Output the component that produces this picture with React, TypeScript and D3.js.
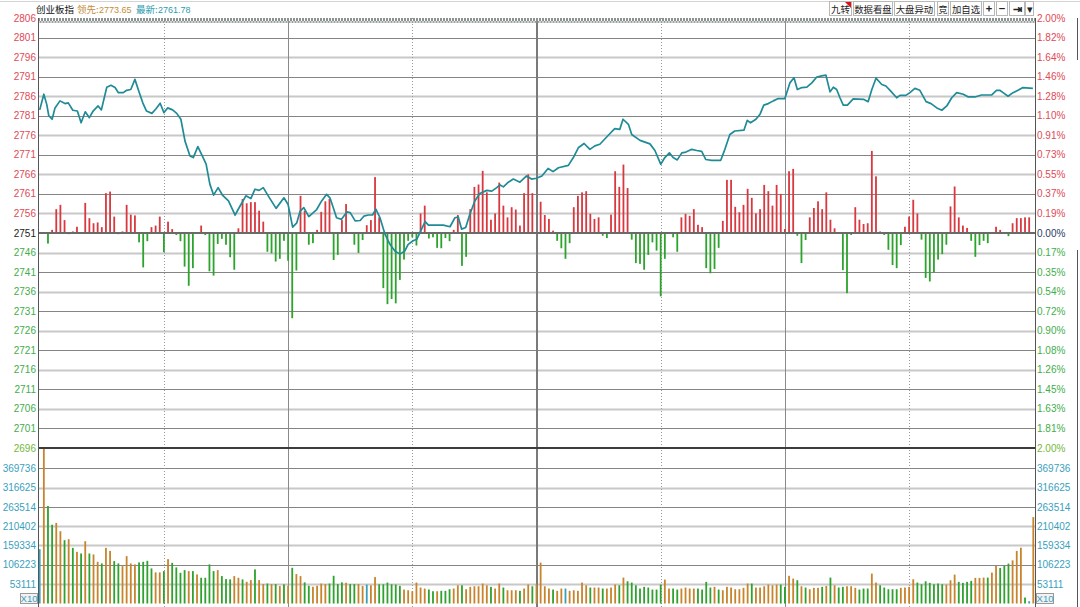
import { useRef, useEffect } from 'react';
import * as d3 from 'd3';

const W = 1080;
const H = 607;

// axis tick labels
const priceTicks = [2806, 2801, 2796, 2791, 2786, 2781, 2776, 2771, 2766, 2761, 2756, 2751,
  2746, 2741, 2736, 2731, 2726, 2721, 2716, 2711, 2706, 2701, 2696];
const pctTicks = ['2.00%', '1.82%', '1.64%', '1.46%', '1.28%', '1.10%', '0.91%', '0.73%', '0.55%', '0.37%', '0.19%', '0.00%',
  '0.17%', '0.35%', '0.54%', '0.72%', '0.90%', '1.08%', '1.26%', '1.45%', '1.63%', '1.81%', '2.00%'];
const volTicks = [369736, 316625, 263514, 210402, 159334, 106223, 53111];
const preClose = 2751;

const header = { name: '创业板指', leadLabel: '领先:', lead: '2773.65', lastLabel: '最新:', last: '2761.78' };
const buttons = ['九转', '数据看盘', '大盘异动', '竞', '加自选', '+', '−', '⇥', '▾'];

// price line, [minute, price]
const linePts: [number, number][] = [
  [0, 2782.5], [1.0, 2786.5], [1.7, 2783.9], [2.2, 2781], [3.0, 2780.1], [3.7, 2783], [4.9, 2784.8], [6.1, 2784.1], [6.9, 2784.3], [8.0, 2782.4],
  [9.1, 2782.2], [10.0, 2779.2], [11.0, 2782], [12.0, 2780.5], [12.9, 2782.2], [14.1, 2783.5], [14.9, 2782.5], [16.2, 2788.3], [17.2, 2788.8], [18.2, 2788.2],
  [19.0, 2786.9], [20.2, 2786.9], [21.0, 2787.5], [22.0, 2787.7], [23.0, 2790.3], [23.8, 2787.7], [24.9, 2784.3], [25.8, 2782.2], [27.1, 2781.6], [28.1, 2782.8],
  [29.1, 2784.2], [30.0, 2781.8], [30.9, 2783], [32.1, 2782.5], [33.1, 2781.6], [34.1, 2780.1], [35.1, 2774.5], [36.3, 2770.7], [37.1, 2770.3], [38.2, 2773.1],
  [39.1, 2771.1], [40.2, 2768.6], [41.1, 2763.5], [42.0, 2760.7], [43.1, 2762.6], [44.2, 2760.6], [45.6, 2759.2], [47.2, 2755.6], [48.4, 2757.9], [49.8, 2760.5],
  [51.0, 2759.8], [52.0, 2762.2], [53.0, 2761.9], [54.0, 2762.6], [55.2, 2760.5], [57.1, 2757.3], [59.0, 2760], [60.0, 2758.3], [61.1, 2752.5], [62.1, 2753.6],
  [62.9, 2756.6], [63.8, 2757.5], [65.0, 2755.2], [66.9, 2757], [68.1, 2759.2], [69.3, 2760.9], [70.1, 2760], [70.9, 2757.5], [71.7, 2754.9], [72.9, 2754.5],
  [74.2, 2756.4], [75.0, 2756.2], [76.2, 2754.1], [77.4, 2754.2], [78.3, 2755.3], [79.4, 2755.6], [80.4, 2755.6], [81.2, 2757.1], [82.2, 2754.9], [83.4, 2750.7],
  [84.6, 2748.1], [85.8, 2746.4], [87.0, 2745.6], [88.2, 2746.4], [89.0, 2748.1], [90.2, 2749], [91.1, 2749.4], [92.0, 2751.5], [93.1, 2753.9], [93.9, 2753],
  [95.1, 2753], [97.5, 2753], [99.1, 2752.6], [100.3, 2754.9], [101.1, 2755.1], [101.9, 2752], [102.9, 2752.4], [103.9, 2755.8], [105.1, 2759.2], [106.3, 2761.1],
  [108.0, 2761.9], [109.2, 2761.7], [110.4, 2762.6], [111.2, 2763.3], [112.0, 2762.8], [113.2, 2764], [114.4, 2764.8], [116.0, 2764], [117.6, 2765.6], [118.8, 2764.8],
  [120.0, 2765], [121.3, 2765.6], [122.8, 2767.5], [124.0, 2766.7], [125.3, 2767.7], [127.7, 2768.3], [128.9, 2770.3], [130.1, 2772.8], [131.5, 2773.9], [132.9, 2772.4],
  [134.1, 2773.3], [135.3, 2773.7], [137.7, 2776.4], [138.9, 2777.7], [140.1, 2777.5], [140.9, 2780.1], [142.2, 2778.8], [143.0, 2776.2], [145.0, 2774.7], [147.4, 2773.8],
  [148.6, 2772.1], [150.0, 2768.6], [151.0, 2770.3], [152.1, 2771.5], [153.0, 2770.3], [154.0, 2769.7], [155.1, 2771.5], [156.1, 2771.7], [157.5, 2772.4], [158.7, 2772.1],
  [159.9, 2771.9], [160.9, 2769.8], [162.3, 2769.6], [164.5, 2769.6], [165.5, 2772.4], [166.7, 2776.2], [167.9, 2777.1], [170.1, 2777.3], [170.9, 2779.8], [171.7, 2779.2],
  [173.0, 2780.1], [174.0, 2781.4], [174.9, 2783.7], [176.0, 2784.1], [177.2, 2784.8], [178.4, 2785.4], [180.0, 2785.4], [181.2, 2789.4], [182.2, 2790.7], [183.0, 2787.7],
  [184.1, 2788.2], [185.3, 2788.3], [186.5, 2789.4], [187.7, 2790.9], [188.9, 2791.2], [189.9, 2791.4], [190.9, 2787.1], [191.7, 2788.3], [192.5, 2787.7], [193.3, 2785.6],
  [194.1, 2783.7], [195.1, 2783.7], [196.5, 2785.3], [199.0, 2785.2], [200.1, 2784.6], [201.0, 2787.7], [202.0, 2790.6], [203.4, 2789], [204.4, 2788.6], [205.4, 2787.5],
  [207.0, 2785.6], [207.8, 2786.2], [209.2, 2786.2], [210.2, 2786.9], [211.4, 2788], [212.6, 2787.5], [214.1, 2784.6], [215.3, 2784.1], [216.7, 2783], [217.9, 2782.4],
  [219.1, 2783.5], [220.3, 2785.6], [221.5, 2786.9], [223.1, 2786.5], [224.3, 2785.8], [225.9, 2785.8], [227.5, 2786.3], [229.9, 2786.3], [231.1, 2787.5], [231.9, 2787.5],
  [232.7, 2786.9], [233.9, 2786], [235.1, 2786.9], [236.3, 2787.5], [237.5, 2788.2], [239.9, 2788],
];

// red/green bars around the pre-close line, [minute, points]
const leadBars: [number, number][] = [
  [2, -2.7], [3, 0.8], [4, 6.1], [5, 7.2], [6, 3.3], [7, -0.3], [8, 0.4], [9, 1.6], [11, 7.7], [12, 3.8], [13, 2.5], [14, 2.7], [15, 1.5], [16, 10.2], [17, 10.6],
  [18, 4.2], [19, -0.3], [20, 0.4], [21, 7.2], [22, 4.7], [23, 4.5], [24, -2.4], [25, -8.8], [26, -2.1], [27, 1.5], [28, 1.9], [29, 4.2], [30, -4.9], [31, 2.9],
  [32, 1.0], [33, -0.5], [34, -2.1], [35, -8.6], [36, -13.5], [37, -9.0], [39, 1.9], [40, -0.5], [41, -9.8], [42, -10.9], [43, -2.8], [44, -1.5], [45, -3.0],
  [46, -6.2], [47, -9.4], [48, 1.2], [49, 8.7], [50, 7.6], [51, 7.9], [52, 7.9], [53, 5.7], [54, 2.9], [55, -4.8], [56, -5.2], [57, -7.3], [58, -6.6], [59, -2.0],
  [60, -7.1], [61, -21.8], [62, -9.6], [63, 9.5], [64, 5.7], [65, -3.0], [66, -2.6], [67, 0.8], [68, 5.4], [69, 8.1], [70, 8.7], [71, -6.9], [72, -5.6], [73, 3.3],
  [74, 7.4], [76, -3.0], [77, -5.1], [78, -1.8], [79, 2.0], [80, 3.3], [81, 14.3], [82, 4.0], [83, -14.1], [84, -18.2], [85, -16.9], [86, -18.0], [87, -12.0],
  [88, -6.8], [89, -2.0], [90, -1.1], [91, -3.2], [92, 5.0], [93, 7.0], [94, -1.4], [95, -1.1], [96, -3.8], [97, -3.9], [98, -1.3], [99, -2.1], [100, 0.8],
  [101, 4.6], [102, -8.4], [103, -6.1], [104, 6.1], [105, 11.8], [106, 12.4], [107, 15.9], [108, 10.4], [109, 3.4], [110, 5.0], [111, 12.9], [112, 7.0], [113, 4.0],
  [114, 6.6], [115, 6.0], [116, 1.9], [117, 10.2], [118, 15.0], [119, 10.2], [121, 8.0], [122, 4.6], [123, 3.6], [124, 0.6], [125, -2.0], [126, -3.9], [127, -6.6],
  [128, -2.6], [129, 6.6], [130, 9.5], [131, 10.4], [132, 10.7], [133, 4.9], [134, 3.6], [135, 4.0], [136, -0.7], [137, -1.3], [138, 4.7], [139, 15.8], [140, 11.8],
  [141, 17.5], [142, 11.5], [143, -1.7], [144, -7.7], [145, -7.9], [146, -9.4], [147, -5.6], [148, -2.4], [149, -4.5], [150, -16.2], [151, -6.6], [153, -1.1],
  [154, -4.8], [155, 4.0], [156, 4.9], [157, 4.4], [158, 6.1], [159, 2.1], [160, 1.5], [161, -9.0], [162, -10.3], [163, -9.2], [164, -3.8], [165, 3.1], [166, 13.6],
  [167, 13.6], [168, 6.7], [169, 5.3], [170, 7.2], [171, 11.3], [172, 9.0], [173, 5.0], [174, 6.1], [175, 12.3], [176, 10.7], [177, 7.0], [178, 12.3], [179, 10.0],
  [180, 1.0], [181, 15.8], [182, 16.4], [183, -0.7], [184, -7.7], [185, -1.8], [186, 4.0], [187, 6.4], [188, 8.1], [189, 6.1], [190, 10.4], [191, 3.4], [192, 1.2],
  [194, -9.5], [195, -15.4], [196, -0.5], [197, 6.6], [198, 3.4], [199, 2.3], [200, 2.5], [201, 21.0], [202, 14.5], [203, 0.4], [204, -0.5], [205, -4.3], [206, -8.2],
  [207, -9.0], [208, -3.1], [209, 1.6], [210, 4.2], [211, 8.5], [212, 5.0], [213, -1.7], [214, -11.5], [215, -12.4], [216, -10.1], [217, -6.8], [218, -5.4], [219, -3.0],
  [220, 6.8], [221, 11.9], [222, 4.0], [223, 1.9], [224, 1.3], [225, -2.0], [226, -6.1], [227, -3.1], [228, -2.0], [229, -2.6], [231, 1.6], [232, 0.8], [234, -0.8],
  [235, 2.5], [236, 3.8], [237, 3.8], [238, 4.0], [239, 4.0],
];

// volume per minute 0..240
const volumes = [
  148400, 423000, 266400, 215200, 220100, 197500, 173000, 175700, 152000, 141100,
  136700, 170200, 136700, 134000, 113900, 109500, 152000, 143800, 115800, 109500,
  102100, 129400, 109500, 106800, 112200, 113900, 116600, 95900, 85000, 85000,
  88500, 121200, 111100, 98600, 83900, 91200, 88500, 88500, 79500, 70300,
  70300, 106800, 88500, 91200, 74900, 66700, 65900, 74900, 70300, 65900,
  59400, 64000, 93200, 64000, 53100, 54500, 53100, 53100, 47700, 52300,
  48500, 97500, 80400, 74900, 57700, 48500, 45800, 48500, 54500, 53100,
  54500, 75700, 53100, 57700, 56700, 53100, 53100, 53100, 47700, 51800,
  49800, 72200, 52600, 52600, 57200, 52600, 51800, 48200, 38100, 36200,
  33500, 57200, 43600, 40900, 38100, 33500, 33500, 34600, 34600, 39000,
  40900, 49800, 49800, 39000, 45500, 47100, 47100, 54500, 49800, 45500,
  40900, 54500, 43600, 36200, 36200, 36200, 34600, 40900, 51800, 47100,
  51800, 111700, 47100, 40900, 38100, 34600, 40900, 40900, 34600, 36200,
  34600, 57200, 49800, 43600, 43600, 43600, 40900, 40900, 43600, 51800,
  49800, 70800, 60700, 57200, 49800, 40900, 45500, 43600, 38100, 38100,
  51800, 65400, 40900, 40900, 38100, 40900, 43600, 40900, 40900, 40900,
  38100, 59100, 43600, 45500, 38100, 36200, 45500, 43600, 39000, 39000,
  42800, 54500, 54500, 43600, 43600, 47100, 51800, 49800, 51800, 51800,
  45500, 75700, 68100, 63500, 47100, 43600, 39000, 42800, 42800, 45500,
  48200, 70800, 49800, 43600, 45500, 47100, 47100, 42800, 38100, 40900,
  40900, 81700, 57200, 49800, 43600, 39000, 39000, 39000, 42800, 43600,
  45500, 66200, 57200, 52600, 60700, 56400, 52600, 54500, 52600, 51800,
  63500, 79000, 59100, 56400, 59100, 61800, 70000, 70000, 70800, 70800,
  84400, 102700, 97200, 102700, 109000, 117900, 143600, 152500, 16300, 6300, 236200,
];
// u = up, d = down, e = flat, one letter per minute
const volDir = ('eudduududu' + 'duduuduudd' + 'uuuudddduu' + 'duddddudud' + 'ddduddduud' +
  'uuduududud' + 'uduudduuuu' + 'ddddudduue' + 'uudddddduu' + 'uuuudduddd' +
  'uuduuuuuud' + 'uuduuuduud' + 'uuuuduueuu' + 'uuuduuduuu' + 'dudddddddd' +
  'duudduuuud' + 'ddduduuuuu' + 'uuduuuuuud' + 'duududuuud' + 'ududduuudd' +
  'duuddddduu' + 'uudddddddu' + 'uudddduuud' + 'uuddduuudeu').split('');

const RED = '#d8383f';
const GREEN = '#2ca32c';
const LBL_RED = '#e04a55';
const LBL_GREEN = '#3fae49';
const LBL_LIME = '#74b83a';
const TEAL = '#3a9fbd';
const VOL_COLORS: Record<string, string> = { u: '#c8842c', d: '#2ea12e', e: '#3a9fb8' };
const FONT = '"Liberation Sans", Arial, sans-serif';
const CJK = '"Noto Sans CJK SC", "Liberation Sans", sans-serif';

export default function App() {
  const svgRef = useRef<SVGSVGElement>(null);

  useEffect(() => {
    document.body.style.margin = '0';
    const svg = d3.select(svgRef.current);
    svg.selectAll('*').remove();

    const left = 38, right = 1035, top = 18, bottom = H;
    const x = d3.scaleLinear().domain([0, 240]).range([39.7, 1033.3]);
    const y = d3.scaleLinear().domain([2696, 2806]).range([448, 18]);
    const yv = d3.scaleLinear().domain([0, 424888]).range([603.5, 448]);
    const crisp = (v: number) => Math.round(v) + 0.5;

    svg.append('rect').attr('width', W).attr('height', H).attr('fill', '#fff');
    svg.append('line').attr('x1', 0).attr('x2', W).attr('y1', 1.5).attr('y2', 1.5)
      .attr('stroke', '#d4d4d4').attr('stroke-width', 1);

    const g = svg.append('g');

    // price grid
    priceTicks.forEach((p, i) => {
      if (i === 0 || p === preClose || i === priceTicks.length - 1) return;
      const dark = i % 2 === 1;
      g.append('line').attr('x1', left).attr('x2', right)
        .attr('y1', crisp(y(p))).attr('y2', crisp(y(p)))
        .attr('stroke', dark ? '#858585' : '#c8c8c8').attr('stroke-width', dark ? 1 : 1.8);
    });
    // volume grid
    const volDark = [true, false, true, false, false, true, false];
    volTicks.forEach((v, i) => {
      g.append('line').attr('x1', left).attr('x2', right)
        .attr('y1', crisp(yv(v))).attr('y2', crisp(yv(v)))
        .attr('stroke', volDark[i] ? '#858585' : '#c8c8c8').attr('stroke-width', volDark[i] ? 1 : 1.8);
    });

    // vertical time lines
    [30, 60, 90, 120, 150, 180, 210].forEach((m) => {
      const xx = m === 120 ? Math.round(x(m)) : crisp(x(m));
      const ln = g.append('line').attr('x1', xx).attr('x2', xx).attr('y1', top).attr('y2', bottom);
      if (m === 120) ln.attr('stroke', '#7a7a7a').attr('stroke-width', 2);
      else if (m % 60 === 0) ln.attr('stroke', '#8a8a8a').attr('stroke-width', 1);
      else ln.attr('stroke', '#9a9a9a').attr('stroke-width', 1).attr('stroke-dasharray', '1,2');
    });

    // lead bars
    g.selectAll('rect.lead').data(leadBars).enter().append('rect')
      .attr('x', (d) => x(d[0]) - 0.9).attr('width', 1.8)
      .attr('y', (d) => Math.min(y(preClose + d[1]), y(preClose)))
      .attr('height', (d) => Math.abs(y(preClose + d[1]) - y(preClose)))
      .attr('fill', (d) => (d[1] >= 0 ? RED : GREEN));

    // volume bars
    g.selectAll('rect.vol').data(volumes).enter().append('rect')
      .attr('x', (_d, i) => x(i) - 0.9).attr('width', 1.8)
      .attr('y', (d) => yv(d)).attr('height', (d) => yv(0) - yv(d))
      .attr('fill', (_d, i) => VOL_COLORS[volDir[i]]);

    // baselines
    g.append('line').attr('x1', left).attr('x2', right).attr('y1', y(preClose)).attr('y2', y(preClose))
      .attr('stroke', '#6a6a6a').attr('stroke-width', 2);
    g.append('line').attr('x1', left).attr('x2', right).attr('y1', y(2696)).attr('y2', y(2696))
      .attr('stroke', '#3c3c3c').attr('stroke-width', 2);

    // price line
    const line = d3.line<[number, number]>().x((d) => x(d[0])).y((d) => y(d[1]));
    g.append('path').attr('d', line(linePts) ?? '').attr('fill', 'none')
      .attr('stroke', '#1f8b97').attr('stroke-width', 1.7).attr('stroke-linejoin', 'round');

    // hatched top edge
    g.append('line').attr('x1', left).attr('x2', right).attr('y1', 19.5).attr('y2', 19.5)
      .attr('stroke', '#8c9292').attr('stroke-width', 3).attr('stroke-dasharray', '2,1');
    g.append('line').attr('x1', left + 1.5).attr('x2', right).attr('y1', 22).attr('y2', 22)
      .attr('stroke', '#9aa0a0').attr('stroke-width', 2).attr('stroke-dasharray', '2,1');

    // frame
    g.append('line').attr('x1', left + 0.5).attr('x2', left + 0.5).attr('y1', top).attr('y2', bottom)
      .attr('stroke', '#555').attr('stroke-width', 1);
    g.append('line').attr('x1', right + 0.5).attr('x2', right + 0.5).attr('y1', top).attr('y2', bottom)
      .attr('stroke', '#555').attr('stroke-width', 1);

    // left / right price axis labels
    priceTicks.forEach((p, i) => {
      const last = i === priceTicks.length - 1;
      const col = last ? LBL_LIME : p > preClose ? LBL_RED : p === preClose ? '#222' : LBL_GREEN;
      g.append('text').attr('x', left - 2).attr('y', y(p) + 3.5).attr('text-anchor', 'end')
        .attr('font-family', FONT).attr('font-size', 10).attr('fill', col).text(String(p));
      const pc = last ? LBL_LIME : p > preClose ? LBL_RED : p === preClose ? '#2b3a66' : LBL_GREEN;
      g.append('text').attr('x', right + 2).attr('y', y(p) + 3.5).attr('text-anchor', 'start')
        .attr('font-family', FONT).attr('font-size', 10).attr('fill', pc).text(pctTicks[i]);
    });
    // volume axis labels
    volTicks.forEach((v) => {
      g.append('text').attr('x', left - 2).attr('y', yv(v) + 3.5).attr('text-anchor', 'end')
        .attr('font-family', FONT).attr('font-size', 10).attr('fill', TEAL).text(String(v));
      g.append('text').attr('x', right + 2).attr('y', yv(v) + 3.5).attr('text-anchor', 'start')
        .attr('font-family', FONT).attr('font-size', 10).attr('fill', TEAL).text(String(v));
    });
    [20.5, 1036.5].forEach((bx) => {
      g.append('rect').attr('x', bx).attr('y', 593.5).attr('width', 17).attr('height', 10)
        .attr('fill', '#f2f2f2').attr('stroke', '#9a9a9a');
      g.append('text').attr('x', bx + 8.5).attr('y', 602).attr('text-anchor', 'middle')
        .attr('font-family', FONT).attr('font-size', 9.5).attr('fill', TEAL).text('X10');
    });

    // header
    const hdr = g.append('text').attr('y', 13).attr('font-size', 9.5);
    hdr.append('tspan').attr('x', 36).attr('font-family', CJK).attr('fill', '#111').text(header.name);
    hdr.append('tspan').attr('x', 77).attr('font-family', CJK).attr('fill', '#c48e36').text(header.leadLabel);
    hdr.append('tspan').attr('x', 99).attr('font-family', FONT).attr('font-size', 9).attr('fill', '#c48e36').text(header.lead);
    hdr.append('tspan').attr('x', 136).attr('font-family', CJK).attr('fill', '#2e9cb0').text(header.lastLabel);
    hdr.append('tspan').attr('x', 158).attr('font-family', FONT).attr('font-size', 9).attr('fill', '#2e9cb0').text(header.last);

    // toolbar buttons
    const bx = [829, 853, 894, 937, 950, 983, 996, 1009, 1025];
    const bw = [23, 40, 41, 12, 32, 12, 12, 16, 9];
    buttons.forEach((b, i) => {
      g.append('rect').attr('x', bx[i] + 0.5).attr('y', 1.5).attr('width', bw[i] - 1).attr('height', 14)
        .attr('fill', '#fff').attr('stroke', '#b8b8b8');
      g.append('text').attr('x', bx[i] + bw[i] / 2).attr('y', 12.5).attr('text-anchor', 'middle')
        .attr('font-family', CJK).attr('font-size', i >= 5 ? 11 : 9.4)
        .attr('font-weight', i >= 5 && i < 8 ? 'bold' : 'normal')
        .attr('fill', '#222').text(b);
    });
    g.append('path').attr('d', `M${bx[0] + bw[0] - 7},2 L${bx[0] + bw[0] - 1},2 L${bx[0] + bw[0] - 1},8 Z`)
      .attr('fill', '#e01010');

    // edge of the neighbouring panel
    g.append('line').attr('x1', 1077.5).attr('x2', 1077.5).attr('y1', 18).attr('y2', 60).attr('stroke', '#555');
    g.append('line').attr('x1', 1077.5).attr('x2', 1077.5).attr('y1', 250).attr('y2', bottom).attr('stroke', '#555');
  }, []);

  return (
    <div style={{ position: 'absolute', left: 0, top: 0 }}>
      <svg ref={svgRef} width={W} height={H} style={{ display: 'block' }} />
    </div>
  );
}
